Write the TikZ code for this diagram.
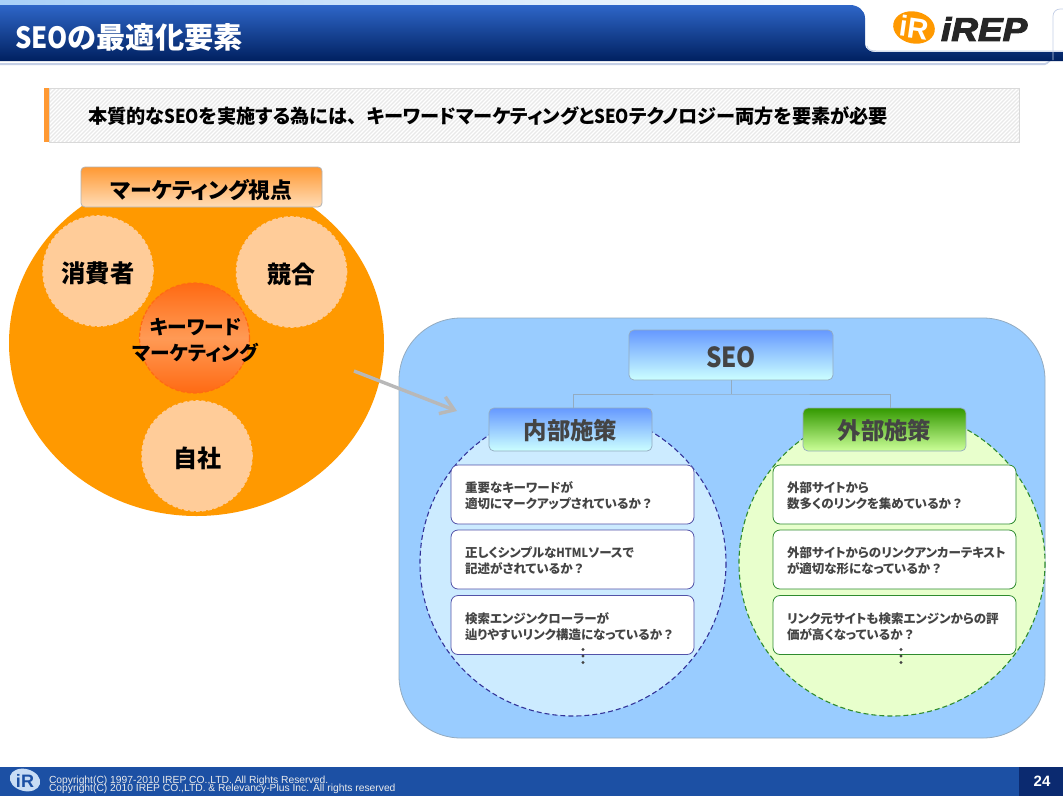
\documentclass[tikz,border=0pt]{standalone}
\usepackage{fontspec}
\usepackage{graphicx}
\usetikzlibrary{arrows.meta}
\newfontfamily\jp{Noto Sans CJK JP}[RawFeature=+palt]
\newfontfamily\hwf{Noto Sans CJK JP}
\newfontfamily\arialf{Liberation Sans}
\newfontfamily\logofont{Liberation Sans}[BoldItalicFeatures={FakeBold=3}]
\newcommand{\han}[1]{\scalebox{.88}[1]{\hwf\bfseries #1}}
\newcommand{\full}[1]{{\hwf\bfseries #1}}
\newcommand{\fs}[1]{\fontsize{#1}{#1}\selectfont}
\newcommand{\dn}[2]{\raisebox{0pt}[\dimexpr\height+#1\relax][\depth]{#2}}
\definecolor{panelblue}{HTML}{99CCFF}
\definecolor{deeporange}{HTML}{FF9900}
\definecolor{paleorange}{HTML}{FFCC99}
\definecolor{inkgray}{HTML}{444444}
\definecolor{navyline}{HTML}{333399}
\definecolor{greenline}{HTML}{2E8B2E}
\definecolor{rgbtop}{HTML}{6699FF}
\definecolor{rgbbottom}{HTML}{CCFFFF}
\definecolor{rgbgreen}{HTML}{CCFF99}
\definecolor{greentop}{HTML}{339900}
\definecolor{titleedge}{HTML}{93ABC0}
\definecolor{HDRlight}{HTML}{A8D0F8}
\definecolor{HDRline}{HTML}{C4CFE6}
\definecolor{HDRtop}{HTML}{2E66C8}
\definecolor{HDRbot}{HTML}{002060}
\definecolor{HATCHbg}{HTML}{E9E9E9}
\definecolor{ACCENT}{HTML}{FF9933}
\definecolor{LBLbot}{HTML}{FFDDB8}
\definecolor{KWedge}{HTML}{FF6A13}
\definecolor{KWmid}{HTML}{FF9A55}
\definecolor{INblue}{HTML}{CCEBFF}
\definecolor{OUTgreen}{HTML}{E8FFCC}
\definecolor{FOOT}{HTML}{1C50A4}
\definecolor{FOOTdark}{HTML}{0B2A70}
\definecolor{FOOTlogo}{HTML}{C8DCF4}
\tikzset{
  x=1pt,y=-1pt,
  every node/.style={inner sep=0pt,outer sep=0pt,font=\jp\bfseries},
  bluetitle/.style={rounded corners=5pt,draw=titleedge,line width=.7pt,top color=rgbtop,bottom color=rgbbottom,minimum height=43pt,minimum width=163pt,text=inkgray},
  greentitle/.style={bluetitle,top color=greentop,bottom color=rgbgreen},
  subcircle/.style={circle,minimum size=110pt,fill=paleorange,draw=paleorange,line width=1.6pt,dash pattern=on 4pt off 2pt,text=black},
  checkL/.style={rounded corners=7pt,fill=white,draw=navyline!85!white,line width=.8pt,text width=215pt,inner xsep=14pt,minimum height=59pt,align=left,text=inkgray,font=\jp\bfseries\fs{12.5},text height=13.5pt,execute at begin node={\setlength{\baselineskip}{16pt}}},
  checkR/.style={checkL,draw=greenline},
  gdots/.style={circle,fill=inkgray,minimum size=3.4pt},
}
\begin{document}
\begin{tikzpicture}
\useasboundingbox (0,0) rectangle (1063,796);
\fill[white] (0,0) rectangle (1063,796);
% header
\shade[left color=HDRlight,right color=white] (0,0) rectangle (865,6);
\fill[HDRline] (0,63) -- (1045,63) to[out=0,in=90] (1050,61) -- (1050,60) -- (1052,60) -- (1052,61) to[out=90,in=0] (1045,65) -- (0,65) -- cycle;
\shade[top color=HDRtop,bottom color=HDRbot] (0,5) -- (850,5) to[out=0,in=90] (865,18) -- (865,44) to[out=-90,in=180] (875,52) -- (1063,52) -- (1063,61) -- (0,61) -- cycle;
\draw[HDRline,line width=1pt] (867,46) to[out=-90,in=180] (876,51) -- (1063,51);
\draw[HDRline,line width=.7pt] (1063,9) -- (1060,9) to[out=180,in=90] (1053,16) -- (1053,60);
\node[anchor=west,text=white] (title) at (15,37) {\fs{29.2}\han{SEO}の最適化要素};
% logo
\fill[deeporange,rotate around={-12:(914,27.5)}] (914,27.5) ellipse (21 and 16);
\node[text=white,rotate=-8] (logomark) at (914,27.5) {\arialf\bfseries\fs{29}iR};
\node[anchor=west,xscale=1.12,text=black!85] (logoword) at (941,29) {\logofont\bfseries\itshape\fs{33}iREP};
% statement band
\begin{scope}
\clip (49,88) rectangle (1019,142);
\fill[HATCHbg] (49,88) rectangle (1019,142);
\foreach \k in {0,4,...,1040}{
  \draw[white,line width=1.3pt] (\k,142) -- ++(60,-60);
}
\end{scope}
\draw[black!15,line width=.7pt] (49,88) rectangle (1019,142);
\fill[ACCENT] (44,88) rectangle (49,142);
\node[anchor=west,text=black] (lead) at (88,116) {\fs{19.2}本質的な\han{SEO}を実施する為には\full{、}キーワードマーケティングと\han{SEO}テクノロジー両方を要素が必要};
% marketing
\fill[deeporange] (196.5,343) ellipse (187.5 and 173);
\node[rounded corners=4pt,draw=black!30,line width=.8pt,top color=ACCENT,bottom color=LBLbot,minimum width=241pt,minimum height=40pt,text=black] (mktlabel) at (201.5,187) {\dn{6pt}{\fs{21.8}マーケティング視点}};
\node[subcircle] (consumer) at (98,271) {\dn{4pt}{\fs{24.3}消費者}};
\node[subcircle] (rival) at (291.5,272) {\dn{4pt}{\fs{24}競合}};
\node[subcircle] (self) at (197,456) {\dn{4pt}{\fs{24}自社}};
\shade[top color=KWedge,bottom color=KWedge,middle color=KWmid] (194.5,338) circle (55);
\draw[KWedge,line width=1.2pt,dash pattern=on 4pt off 2pt] (194.5,338) circle (55);
\node[align=center,text=black,font=\jp\bfseries\fs{19.7},execute at begin node={\setlength{\baselineskip}{26pt}}] (keyword) at (195.5,340.5) {キーワード\\マーケティング};
% panel
\fill[panelblue,draw=titleedge,line width=.8pt,rounded corners=62pt] (399,318) rectangle (1045,738);
\coordinate (arrowstart) at (354,371);
\coordinate (arrowend) at (457,411);
\draw[black!28,line width=3.4pt,-{Straight Barb[length=13pt,width=18pt,line width=3.4pt]}] (arrowstart) -- (arrowend);
% circles
\draw[fill=INblue,draw=navyline,line width=1.1pt,dash pattern=on 5pt off 3pt] (573,563) circle (153);
\draw[fill=OUTgreen,draw=greenline,line width=1.1pt,dash pattern=on 5pt off 3pt] (892,563) circle (153);
% tree
\coordinate (joint) at (731,394);
\coordinate (leftdrop) at (573,408);
\coordinate (rightdrop) at (890,408);
\node[bluetitle,minimum width=204pt,minimum height=50pt] (seo) at (731,355) {\dn{4pt}{\fs{27.6}\han{SEO}}};
\draw[titleedge,line width=.7pt] (seo.south) -- (joint);
\draw[titleedge,line width=.7pt] (leftdrop) |- (joint) -| (rightdrop);
\node[bluetitle] (inner) at (570.5,429.5) {\dn{3pt}{\fs{23.4}内部施策}};
\node[greentitle] (outer) at (884.5,429.5) {\dn{3pt}{\fs{23.4}外部施策}};
% left items
\node[checkL] (l1) at (572.5,494.5) {重要なキーワードが\\適切にマークアップされているか\full{？}};
\node[checkL] (l2) at (572.5,559.5) {正しくシンプルな\han{HTML}ソースで\\記述がされているか\full{？}};
\node[checkL] (l3) at (572.5,625) {検索エンジンクローラーが\\辿りやすいリンク構造になっているか\full{？}};
\node[checkR] (r1) at (894.5,494.5) {外部サイトから\\数多くのリンクを集めているか\full{？}};
\node[checkR] (r2) at (894.5,559.5) {外部サイトからのリンクアンカーテキスト\\が適切な形になっているか\full{？}};
\node[checkR] (r3) at (894.5,625) {リンク元サイトも検索エンジンからの評\\価が高くなっているか\full{？}};
\foreach \yy [count=\i] in {649.5,656,662.5}{
  \node[gdots] (ld\i) at (583,\yy) {};
  \node[gdots] (rd\i) at (901,\yy) {};
}
% footer
\fill[FOOT] (0,767) rectangle (1063,796);
\fill[FOOTdark] (1019,767) rectangle (1063,796);
\node[text=white] (pageno) at (1042,781.5) {\arialf\bfseries\fs{15}24};
\fill[FOOTlogo,rotate around={-15:(25,780)}] (25,780) ellipse (15.5 and 11);
\node[text=FOOT] (footmark) at (25,780.5) {\arialf\bfseries\fs{18}iR};
\node[anchor=base west,text=black!8] (copy1) at (49,783) {\arialf\mdseries\fs{10.3}Copyright(C) 1997-2010 IREP CO.,LTD. All Rights Reserved.};
\node[anchor=base west,text=black!8] (copy2) at (49,791) {\arialf\mdseries\fs{10.3}Copyright(C) 2010 IREP CO.,LTD. \& Relevancy-Plus Inc. All rights reserved};
\end{tikzpicture}
\end{document}
